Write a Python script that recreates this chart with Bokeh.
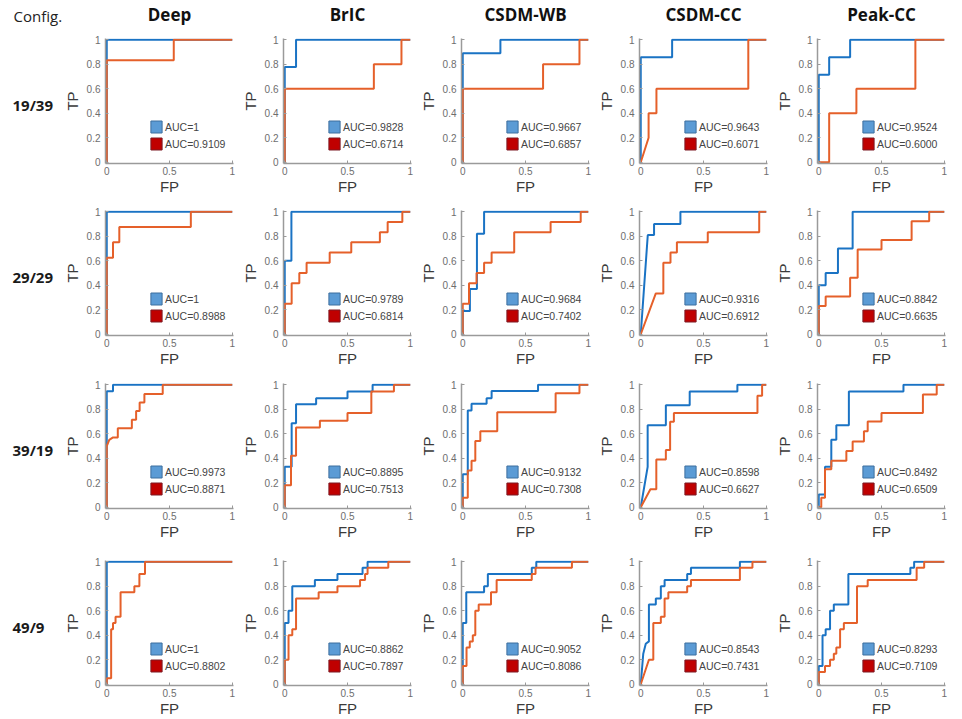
from bokeh.plotting import figure
from bokeh.layouts import row, column
from bokeh.models import (Range1d, FixedTicker, CustomJSTickFormatter, Legend,
                          LegendItem)
from bokeh.core.properties import value
from bokeh.embed import file_html
from bokeh.resources import INLINE

# ---------------- data ----------------
configs = ["19/39", "29/29", "39/19", "49/9"]
methods = ["Deep", "BrIC", "CSDM-WB", "CSDM-CC", "Peak-CC"]

auc_blue_1939 = ["1", "0.9828", "0.9667", "0.9643", "0.9524"]
auc_orange_1939 = ["0.9109", "0.6714", "0.6857", "0.6071", "0.6000"]
auc_blue_2929 = ["1", "0.9789", "0.9684", "0.9316", "0.8842"]
auc_orange_2929 = ["0.8988", "0.6814", "0.7402", "0.6912", "0.6635"]
auc_blue_3919 = ["0.9973", "0.8895", "0.9132", "0.8598", "0.8492"]
auc_orange_3919 = ["0.8871", "0.7513", "0.7308", "0.6627", "0.6509"]
auc_blue_499 = ["1", "0.8862", "0.9052", "0.8543", "0.8293"]
auc_orange_499 = ["0.8802", "0.7897", "0.8086", "0.7431", "0.7109"]

# ROC points (FP, TP)
deep_1939_blue = [(0, 0), (0, 1), (1, 1)]
deep_1939_orange = [(0, 0), (0, 0.833), (0.534, 0.833), (0.534, 1), (1, 1)]
bric_1939_blue = [(0, 0), (0, 0.778), (0.09, 0.778), (0.09, 1), (1, 1)]
bric_1939_orange = [(0, 0), (0, 0.6), (0.71, 0.6), (0.71, 0.8), (0.93, 0.8), (0.93, 1), (1, 1)]
wb_1939_blue = [(0, 0), (0, 0.889), (0.3, 0.889), (0.3, 1), (1, 1)]
wb_1939_orange = [(0, 0), (0, 0.6), (0.64, 0.6), (0.64, 0.8), (0.93, 0.8), (0.93, 1), (1, 1)]
cc_1939_blue = [(0, 0), (0, 0.857), (0.25, 0.857), (0.25, 1), (1, 1)]
cc_1939_orange = [(0, 0), (0.0625, 0.2), (0.0625, 0.4), (0.125, 0.4), (0.125, 0.6),
                  (0.857, 0.6), (0.857, 1), (1, 1)]
peak_1939_blue = [(0, 0), (0, 0.714), (0.083, 0.714), (0.083, 0.857), (0.25, 0.857),
                  (0.25, 1), (1, 1)]
peak_1939_orange = [(0, 0), (0.083, 0), (0.083, 0.4), (0.3, 0.4), (0.3, 0.6), (0.77, 0.6),
                    (0.77, 1), (1, 1)]

deep_2929_blue = [(0, 0), (0, 1), (1, 1)]
deep_2929_orange = [(0, 0), (0, 0.625), (0.05, 0.625), (0.05, 0.75), (0.1, 0.75), (0.1, 0.875),
                    (0.67, 0.875), (0.67, 1), (1, 1)]
bric_2929_blue = [(0, 0), (0, 0.6), (0.053, 0.6), (0.053, 1), (1, 1)]
bric_2929_orange = [(0, 0), (0, 0.25), (0.055, 0.25), (0.055, 0.417), (0.116, 0.417),
                    (0.116, 0.5), (0.174, 0.5), (0.174, 0.583), (0.358, 0.583), (0.358, 0.667),
                    (0.53, 0.667), (0.53, 0.75), (0.758, 0.75), (0.758, 0.833), (0.82, 0.833),
                    (0.82, 0.917), (0.937, 0.917), (0.937, 1), (1, 1)]
wb_2929_blue = [(0, 0), (0, 0.19), (0.057, 0.19), (0.057, 0.37), (0.113, 0.37), (0.113, 0.82),
                (0.17, 0.82), (0.17, 1), (1, 1)]
wb_2929_orange = [(0, 0), (0, 0.25), (0.05, 0.25), (0.05, 0.417), (0.11, 0.417), (0.11, 0.5),
                  (0.17, 0.5), (0.17, 0.583), (0.23, 0.583), (0.23, 0.667), (0.41, 0.667),
                  (0.41, 0.833), (0.7, 0.833), (0.7, 0.917), (0.94, 0.917), (0.94, 1), (1, 1)]
cc_2929_blue = [(0, 0), (0.056, 0.81), (0.106, 0.81), (0.106, 0.9), (0.316, 0.9), (0.316, 1),
                (1, 1)]
cc_2929_orange = [(0, 0), (0.12, 0.333), (0.18, 0.333), (0.18, 0.583), (0.237, 0.583),
                  (0.237, 0.667), (0.288, 0.667), (0.288, 0.75), (0.534, 0.75), (0.534, 0.833),
                  (0.944, 0.833), (0.944, 1), (1, 1)]
peak_2929_blue = [(0, 0), (0, 0.4), (0.055, 0.4), (0.055, 0.5), (0.153, 0.5), (0.153, 0.7),
                  (0.27, 0.7), (0.27, 1), (1, 1)]
peak_2929_orange = [(0, 0), (0, 0.23), (0.055, 0.23), (0.055, 0.308), (0.25, 0.308),
                    (0.25, 0.462), (0.31, 0.462), (0.31, 0.692), (0.5, 0.692), (0.5, 0.769),
                    (0.74, 0.769), (0.74, 0.923), (0.88, 0.923), (0.88, 1), (1, 1)]

deep_3919_blue = [(0, 0), (0, 0.947), (0.05, 0.947), (0.05, 1), (1, 1)]
deep_3919_orange = [(0, 0), (0, 0.5), (0.02, 0.55), (0.05, 0.57), (0.088, 0.57), (0.088, 0.645),
                    (0.2, 0.645), (0.2, 0.715), (0.234, 0.715), (0.234, 0.785), (0.262, 0.785),
                    (0.262, 0.855), (0.3, 0.855), (0.3, 0.925), (0.446, 0.925), (0.446, 1),
                    (1, 1)]
bric_3919_blue = [(0, 0), (0, 0.33), (0.055, 0.33), (0.055, 0.685), (0.09, 0.685), (0.09, 0.84),
                  (0.25, 0.84), (0.25, 0.89), (0.5, 0.89), (0.5, 0.945), (0.7, 0.945), (0.7, 1),
                  (1, 1)]
bric_3919_orange = [(0, 0), (0, 0.18), (0.05, 0.18), (0.05, 0.42), (0.09, 0.42), (0.09, 0.65),
                    (0.28, 0.65), (0.28, 0.707), (0.5, 0.707), (0.5, 0.77), (0.69, 0.77),
                    (0.69, 0.945), (0.87, 0.945), (0.87, 1), (1, 1)]
wb_3919_blue = [(0, 0), (0, 0.27), (0.04, 0.27), (0.04, 0.79), (0.07, 0.79), (0.07, 0.844),
                (0.19, 0.844), (0.19, 0.89), (0.23, 0.89), (0.23, 0.948), (0.6, 0.948),
                (0.6, 1), (1, 1)]
wb_3919_orange = [(0, 0), (0, 0.077), (0.04, 0.077), (0.04, 0.3), (0.07, 0.3), (0.07, 0.38),
                  (0.1, 0.38), (0.1, 0.54), (0.14, 0.54), (0.14, 0.62), (0.275, 0.62),
                  (0.275, 0.775), (0.74, 0.775), (0.74, 0.93), (0.93, 0.93), (0.93, 1), (1, 1)]
cc_3919_blue = [(0, 0), (0.055, 0.33), (0.055, 0.67), (0.2, 0.67), (0.2, 0.833), (0.39, 0.833),
                (0.39, 0.944), (0.77, 0.944), (0.77, 1), (1, 1)]
cc_3919_orange = [(0, 0), (0.077, 0.147), (0.124, 0.147), (0.124, 0.39), (0.2, 0.39),
                  (0.2, 0.467), (0.234, 0.467), (0.234, 0.697), (0.264, 0.697), (0.264, 0.77),
                  (0.93, 0.77), (0.93, 0.91), (0.967, 0.91), (0.967, 1), (1, 1)]
peak_3919_blue = [(0, 0), (0, 0.105), (0.05, 0.105), (0.05, 0.33), (0.1, 0.33), (0.1, 0.55),
                  (0.14, 0.55), (0.14, 0.67), (0.24, 0.67), (0.24, 0.944), (0.675, 0.944),
                  (0.675, 1), (1, 1)]
peak_3919_orange = [(0, 0), (0.02, 0), (0.02, 0.078), (0.05, 0.078), (0.05, 0.31), (0.1, 0.31),
                    (0.1, 0.38), (0.22, 0.38), (0.22, 0.46), (0.27, 0.46), (0.27, 0.536),
                    (0.36, 0.536), (0.36, 0.62), (0.39, 0.62), (0.39, 0.7), (0.5, 0.7),
                    (0.5, 0.77), (0.83, 0.77), (0.83, 0.92), (0.94, 0.92), (0.94, 1), (1, 1)]

deep_499_blue = [(0, 0), (0, 1), (1, 1)]
deep_499_orange = [(0, 0), (0, 0.05), (0.035, 0.05), (0.035, 0.45), (0.05, 0.45), (0.05, 0.5),
                   (0.07, 0.5), (0.07, 0.55), (0.11, 0.55), (0.11, 0.75), (0.22, 0.75),
                   (0.22, 0.8), (0.26, 0.8), (0.26, 0.9), (0.305, 0.9), (0.305, 1), (1, 1)]
bric_499_blue = [(0, 0), (0, 0.5), (0.03, 0.5), (0.03, 0.6), (0.06, 0.6), (0.06, 0.8),
                 (0.24, 0.8), (0.24, 0.85), (0.42, 0.85), (0.42, 0.9), (0.62, 0.9), (0.62, 0.95),
                 (0.66, 0.95), (0.66, 1), (1, 1)]
bric_499_orange = [(0, 0), (0, 0.2), (0.03, 0.2), (0.03, 0.4), (0.06, 0.4), (0.06, 0.45),
                   (0.09, 0.45), (0.09, 0.7), (0.27, 0.7), (0.27, 0.75), (0.42, 0.75),
                   (0.42, 0.8), (0.6, 0.8), (0.6, 0.85), (0.64, 0.85), (0.64, 0.9), (0.66, 0.9),
                   (0.66, 0.95), (0.825, 0.95), (0.825, 1), (1, 1)]
wb_499_blue = [(0, 0), (0, 0.5), (0.028, 0.5), (0.028, 0.75), (0.17, 0.75), (0.17, 0.8),
               (0.2, 0.8), (0.2, 0.9), (0.55, 0.9), (0.55, 0.95), (0.586, 0.95), (0.586, 1),
               (1, 1)]
wb_499_orange = [(0, 0), (0, 0.15), (0.03, 0.15), (0.03, 0.3), (0.056, 0.3), (0.056, 0.35),
                 (0.08, 0.35), (0.08, 0.4), (0.1, 0.4), (0.1, 0.6), (0.127, 0.6), (0.127, 0.65),
                 (0.225, 0.65), (0.225, 0.75), (0.27, 0.75), (0.27, 0.85), (0.55, 0.85),
                 (0.55, 0.9), (0.58, 0.9), (0.58, 0.95), (0.87, 0.95), (0.87, 1), (1, 1)]
cc_499_blue = [(0, 0), (0.02, 0.25), (0.04, 0.33), (0.065, 0.35), (0.065, 0.65), (0.12, 0.65),
               (0.12, 0.7), (0.16, 0.7), (0.16, 0.8), (0.19, 0.8), (0.19, 0.85), (0.37, 0.85),
               (0.37, 0.9), (0.4, 0.9), (0.4, 0.95), (0.79, 0.95), (0.79, 1), (1, 1)]
cc_499_orange = [(0, 0), (0.065, 0.2), (0.1, 0.2), (0.1, 0.5), (0.16, 0.5), (0.16, 0.55),
                 (0.19, 0.55), (0.19, 0.7), (0.22, 0.7), (0.22, 0.75), (0.37, 0.75),
                 (0.37, 0.8), (0.4, 0.8), (0.4, 0.85), (0.79, 0.85), (0.79, 0.95), (0.89, 0.95),
                 (0.89, 1), (1, 1)]
peak_499_blue = [(0, 0), (0, 0.15), (0.03, 0.15), (0.03, 0.4), (0.055, 0.4), (0.055, 0.45),
                 (0.09, 0.45), (0.09, 0.6), (0.12, 0.6), (0.12, 0.65), (0.236, 0.65),
                 (0.236, 0.9), (0.73, 0.9), (0.73, 0.95), (0.76, 0.95), (0.76, 1), (1, 1)]
peak_499_orange = [(0, 0), (0, 0.1), (0.05, 0.1), (0.05, 0.15), (0.09, 0.15), (0.09, 0.2),
                   (0.12, 0.2), (0.12, 0.25), (0.14, 0.25), (0.14, 0.3), (0.17, 0.3),
                   (0.17, 0.45), (0.2, 0.45), (0.2, 0.5), (0.305, 0.5), (0.305, 0.8),
                   (0.39, 0.8), (0.39, 0.85), (0.78, 0.85), (0.78, 0.95), (0.84, 0.95),
                   (0.84, 1), (1, 1)]

# ---------------- assembly ----------------
rows_data = [
    ([deep_1939_blue, bric_1939_blue, wb_1939_blue, cc_1939_blue, peak_1939_blue],
     [deep_1939_orange, bric_1939_orange, wb_1939_orange, cc_1939_orange, peak_1939_orange],
     auc_blue_1939, auc_orange_1939),
    ([deep_2929_blue, bric_2929_blue, wb_2929_blue, cc_2929_blue, peak_2929_blue],
     [deep_2929_orange, bric_2929_orange, wb_2929_orange, cc_2929_orange, peak_2929_orange],
     auc_blue_2929, auc_orange_2929),
    ([deep_3919_blue, bric_3919_blue, wb_3919_blue, cc_3919_blue, peak_3919_blue],
     [deep_3919_orange, bric_3919_orange, wb_3919_orange, cc_3919_orange, peak_3919_orange],
     auc_blue_3919, auc_orange_3919),
    ([deep_499_blue, bric_499_blue, wb_499_blue, cc_499_blue, peak_499_blue],
     [deep_499_orange, bric_499_orange, wb_499_orange, cc_499_orange, peak_499_orange],
     auc_blue_499, auc_orange_499),
]

BLUE = "#1a73c4"
ORANGE = "#e5602a"
AXIS_GRAY = "#9a9a9a"
TICK_TXT = "#6e6e6e"
FONT = "Liberation Sans"
NAN = float("nan")

LABEL_W = 59
BORDER_L, FRAME_W, BORDER_R = 46, 128, 4
FRAME_H = 125
TOPS = [8, 8, 8, 8]
BOTTOMS = [39, 40, 44, 33]
HEADER_H = 30


def roc_panel(blue, orange, auc_b, auc_o, top, bottom):
    p = figure(frame_width=FRAME_W, frame_height=FRAME_H,
               x_range=Range1d(-0.01, 1.01), y_range=Range1d(-0.01, 1.01),
               output_backend="svg", toolbar_location=None,
               min_border_left=BORDER_L, min_border_right=BORDER_R,
               min_border_top=top, min_border_bottom=bottom,
               background_fill_color="white", border_fill_color="white")
    p.outline_line_color = None
    p.grid.visible = False

    bx, by = zip(*blue)
    ox, oy = zip(*orange)
    p.line(list(bx), list(by), line_color=BLUE, line_width=2)
    p.line(list(ox), list(oy), line_color=ORANGE, line_width=2)

    # legend swatches (renderers with no visible geometry)
    sw_b = p.quad(left=[NAN], right=[NAN], top=[NAN], bottom=[NAN], fill_color="#5b9bd5",
                  line_color="#3d6f9e", line_width=1)
    sw_o = p.quad(left=[NAN], right=[NAN], top=[NAN], bottom=[NAN], fill_color="#c00000",
                  line_color="#7d1a24", line_width=1)
    leg = Legend(items=[LegendItem(label=value("AUC=" + auc_b), renderers=[sw_b]),
                        LegendItem(label=value("AUC=" + auc_o), renderers=[sw_o])],
                 location=(44, 12), padding=0, margin=0, spacing=2,
                 glyph_width=14, glyph_height=15, label_height=15, label_standoff=2,
                 label_text_font=FONT, label_text_font_size="10.5px",
                 label_text_color="#454545", label_text_baseline="middle",
                 background_fill_alpha=0, border_line_color=None)
    p.add_layout(leg)

    fmt = CustomJSTickFormatter(code="return String(tick);")
    p.xaxis.ticker = FixedTicker(ticks=[0, 0.5, 1])
    p.yaxis.ticker = FixedTicker(ticks=[0, 0.2, 0.4, 0.6, 0.8, 1])
    for ax, lab in ((p.xaxis[0], "FP"), (p.yaxis[0], "TP")):
        ax.formatter = fmt
        ax.axis_label = lab
        ax.axis_label_text_font = FONT
        ax.axis_label_text_font_size = "15px"
        ax.axis_label_text_font_style = "normal"
        ax.axis_label_text_color = "#3a3a3a"
        ax.major_label_text_font = FONT
        ax.major_label_text_font_size = "10px"
        ax.major_label_text_color = TICK_TXT
        ax.axis_line_color = AXIS_GRAY
        ax.axis_line_width = 1.5
        ax.major_tick_line_color = AXIS_GRAY
        ax.major_tick_in = 3
        ax.major_tick_out = 0
        ax.minor_tick_line_color = None
    p.xaxis.major_label_standoff = 3
    p.xaxis.axis_label_standoff = 0
    p.yaxis.major_label_standoff = 5
    p.yaxis.axis_label_standoff = 3
    return p


total_w = LABEL_W + 5 * (BORDER_L + FRAME_W + BORDER_R)
row_heights = [t + FRAME_H + b for t, b in zip(TOPS, BOTTOMS)]
grid_h = sum(row_heights)

# header with column titles
hdr = figure(frame_width=total_w, frame_height=HEADER_H,
             x_range=Range1d(0, total_w), y_range=Range1d(HEADER_H, 0),
             x_axis_location=None, y_axis_location=None,
             output_backend="svg", toolbar_location=None,
             min_border_left=0, min_border_right=0, min_border_top=0, min_border_bottom=0)
hdr.outline_line_color = None
hdr.grid.visible = False
title_x = [LABEL_W + i * (BORDER_L + FRAME_W + BORDER_R) + BORDER_L + FRAME_W / 2
           for i in range(len(methods))]
hdr.text(x=title_x, y=[14] * len(methods), text=methods,
         text_font=value("Open Sans"), text_font_style="bold", text_font_size="17px",
         text_align="center", text_baseline="middle", text_color="#111111")
hdr.text(x=[13], y=[15], text=["Config."], text_font=value("Open Sans"),
         text_font_size="15px", text_align="left", text_baseline="middle",
         text_color="#222222")

# row labels
lbl = figure(frame_width=LABEL_W, frame_height=grid_h,
             x_range=Range1d(0, LABEL_W), y_range=Range1d(grid_h, 0),
             x_axis_location=None, y_axis_location=None,
             output_backend="svg", toolbar_location=None,
             min_border_left=0, min_border_right=0, min_border_top=0, min_border_bottom=0)
lbl.outline_line_color = None
lbl.grid.visible = False
row_tops = [sum(row_heights[:i]) for i in range(len(configs))]
lbl_y = [t + TOPS[i] + FRAME_H / 2 + 4 for i, t in enumerate(row_tops)]
lbl.text(x=[12] * len(configs), y=lbl_y, text=configs,
         text_font=value("Open Sans"), text_font_style="bold", text_font_size="15px",
         text_align="left", text_baseline="middle", text_color="#1a1a1a")

grid_rows = []
for r, (blues, oranges, aucb, auco) in enumerate(rows_data):
    panels = [roc_panel(blues[c], oranges[c], aucb[c], auco[c], TOPS[r], BOTTOMS[r])
              for c in range(len(methods))]
    grid_rows.append(row(*panels))

layout = column(hdr, row(lbl, column(*grid_rows)))

open("out.html", "w").write(file_html(layout, INLINE))
